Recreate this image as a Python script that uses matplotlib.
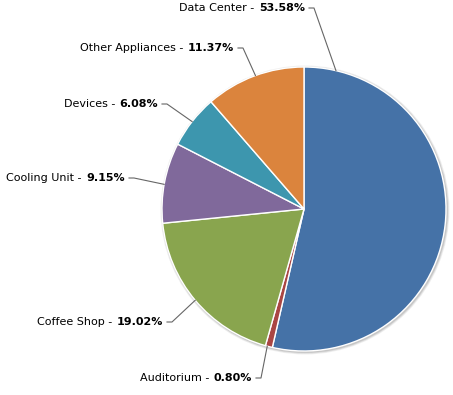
import matplotlib
matplotlib.use("Agg")
import matplotlib.pyplot as plt
import numpy as np
from matplotlib.patches import Circle

categories = ["Data Center", "Auditorium", "Coffee Shop", "Cooling Unit",
              "Devices", "Other Appliances"]
shares = [53.58, 0.80, 19.02, 9.15, 6.08, 11.37]
colors = ["#4572A7", "#AA4643", "#89A54E", "#80699B", "#3D96AE", "#DB843D"]

# label layout (pixels, y from top): right end of text, text row, angle on edge (deg clockwise from top)
label_end_x = [305, 252, 163, 125, 158, 234]
label_y = [8, 378, 322, 178, 104, 48]
edge_angle = [13, 195, 230, 280, 308, 340]

W, H = 453, 395
cx, cy, R = 304, 209, 142

fig = plt.figure(figsize=(W / 100, H / 100), dpi=100)
ax = fig.add_axes([0, 0, 1, 1])
ax.set_xlim(0, W)
ax.set_ylim(0, H)
ax.set_aspect("equal")
ax.axis("off")

# soft shadow under the pie
for k, a in enumerate([0.06, 0.08, 0.10]):
    ax.add_patch(Circle((cx + 1, H - cy - 1), R + 2.5 - k * 0.8, color="black",
                        alpha=a, lw=0, zorder=0))

ax.pie(shares, colors=colors, startangle=90, counterclock=False,
       center=(cx, H - cy), radius=R,
       wedgeprops=dict(edgecolor="white", linewidth=1.0), frame=True)
ax.set_xlim(0, W)
ax.set_ylim(0, H)
ax.axis("off")

fig.canvas.draw()
r = fig.canvas.get_renderer()
fs = 8
for name, val, xe, yl, ang in zip(categories, shares, label_end_x, label_y, edge_angle):
    yd = H - yl
    t = ax.text(xe, yd, "%.2f%%" % val, fontsize=fs, fontweight="bold",
                ha="right", va="center", color="black", family="DejaVu Sans")
    bb = t.get_window_extent(renderer=r)
    ax.text(xe - bb.width - 1, yd, name + " - ", fontsize=fs, ha="right",
            va="center", color="black", family="DejaVu Sans")
    th = np.deg2rad(ang)
    ex = cx + R * np.sin(th)
    ey = H - (cy - R * np.cos(th))
    ax.plot([xe + 4, xe + 9, ex], [yd, yd, ey], color="#666666", lw=0.8,
            zorder=5)

fig.savefig("out.png", dpi=100)
